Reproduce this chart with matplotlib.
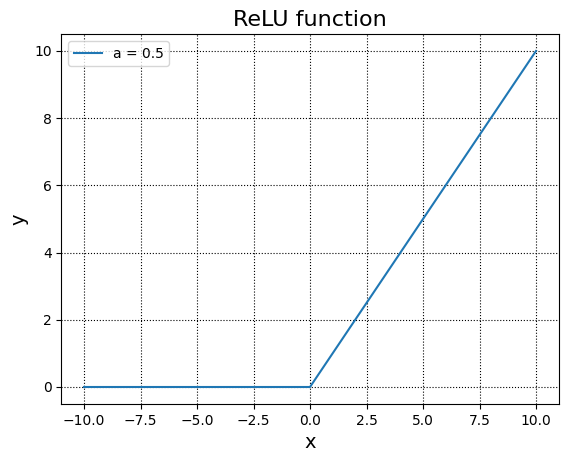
import matplotlib
matplotlib.use("Agg")
import matplotlib.pyplot as plt

x = [-10, 0, 10]
y = [0, 0, 10]
label = "a = 0.5"

fig = plt.figure(figsize=(5.67, 4.62), dpi=100)
ax = fig.add_axes([61.4/567, 1-403.8/462, (558.6-61.4)/567, (403.8-34.2)/462])
ax.plot(x, y, label=label)
ax.set_title("ReLU function", fontsize=16)
ax.set_xlabel("x", fontsize=14)
ax.set_ylabel("y", fontsize=14)
ax.grid(True, linestyle=":", color="black")
ax.legend(loc="upper left")
fig.savefig("out.png", dpi=100)
